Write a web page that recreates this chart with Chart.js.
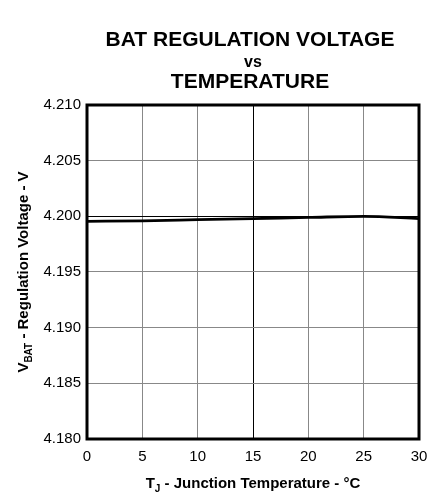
<!DOCTYPE html>
<html>
<head>
<meta charset="utf-8">
<script src="https://cdn.jsdelivr.net/npm/chart.js@4"></script>
<style>
  html, body { margin: 0; padding: 0; background: #fff; }
  #wrap { width: 438px; height: 495px; }
</style>
</head>
<body>
<div id="wrap"><canvas id="chart"></canvas></div>
<script>
const temperatures = [0, 5, 10, 15, 20, 25, 30];
const vbat = [4.19955, 4.1996, 4.1997, 4.1998, 4.1999, 4.2000, 4.1998];
const titleLines = ['BAT REGULATION VOLTAGE', 'vs', 'TEMPERATURE'];

const FONT = '"Liberation Sans", Arial, sans-serif';

// title, axis titles with subscripts and the heavy frame
const decor = {
  id: 'decor',
  afterDraw(chart) {
    const { ctx, chartArea: a } = chart;
    ctx.save();
    ctx.fillStyle = '#000';
    ctx.textAlign = 'center';
    ctx.textBaseline = 'alphabetic';
    const cx = 250;
    ctx.font = 'bold 21px ' + FONT;
    ctx.fillText(titleLines[0], cx, 46);
    ctx.font = 'bold 16px ' + FONT;
    ctx.fillText(titleLines[1], cx + 3, 67);
    ctx.font = 'bold 21px ' + FONT;
    ctx.fillText(titleLines[2], cx, 88);

    // frame
    ctx.strokeStyle = '#000';
    ctx.lineWidth = 3;
    ctx.strokeRect(a.left, a.top, a.right - a.left, a.bottom - a.top);

    // x title
    const mid = (a.left + a.right) / 2;
    drawParts(ctx, [['T', 15, 0], ['J', 10, 4], [' - Junction Temperature - °C', 15, 0]], mid, 488);

    // y title
    ctx.translate(28, (a.top + a.bottom) / 2);
    ctx.rotate(-Math.PI / 2);
    drawParts(ctx, [['V', 15, 0], ['BAT', 10, 4], [' - Regulation Voltage - V', 15, 0]], 0, 0);
    ctx.restore();
  }
};

function drawParts(ctx, parts, cx, y) {
  let total = 0;
  parts.forEach(p => { ctx.font = 'bold ' + p[1] + 'px ' + FONT; total += ctx.measureText(p[0]).width; });
  let x = cx - total / 2;
  ctx.textAlign = 'left';
  parts.forEach(p => {
    ctx.font = 'bold ' + p[1] + 'px ' + FONT;
    ctx.fillText(p[0], x, y + p[2]);
    x += ctx.measureText(p[0]).width;
  });
  ctx.textAlign = 'center';
}

new Chart(document.getElementById('chart'), {
  type: 'line',
  data: {
    datasets: [{
      data: temperatures.map((t, i) => ({ x: t, y: vbat[i] })),
      borderColor: '#000',
      borderWidth: 2.8,
      pointRadius: 0,
      cubicInterpolationMode: 'monotone',
      fill: false
    }]
  },
  options: {
    responsive: true,
    maintainAspectRatio: false,
    animation: false,
    layout: { padding: { left: 0, right: 19, top: 105, bottom: 0 } },
    plugins: { legend: { display: false }, tooltip: { enabled: false } },
    scales: {
      x: {
        type: 'linear',
        min: 0, max: 30,
        ticks: { stepSize: 5, color: '#000', font: { family: FONT, size: 15 }, padding: 9, maxRotation: 0 },
        grid: { color: c => c.tick && c.tick.value === 15 ? '#000' : '#888', lineWidth: 1, drawTicks: false },
        border: { display: false },
        afterFit(s) { s.height = 56; }
      },
      y: {
        min: 4.180, max: 4.210,
        ticks: {
          stepSize: 0.005, color: '#000', padding: 6,
          font: { family: FONT, size: 15 },
          callback: v => v.toFixed(3)
        },
        grid: { color: c => c.tick && Math.abs(c.tick.value - 4.2) < 1e-6 ? '#000' : '#888', lineWidth: 1, drawTicks: false },
        border: { display: false },
        afterFit(s) { s.width = 87; }
      }
    }
  },
  plugins: [decor]
});
</script>
</body>
</html>
